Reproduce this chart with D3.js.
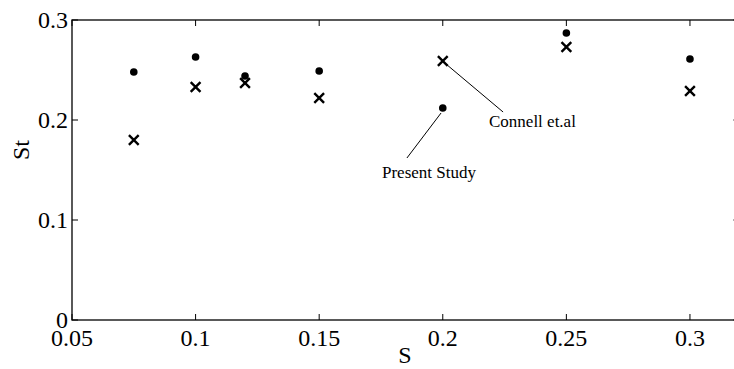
<!DOCTYPE html>
<html>
<head>
<meta charset="utf-8">
<script src="https://cdn.jsdelivr.net/npm/d3@7"></script>
<style>
  html, body { margin: 0; padding: 0; background: #fff; }
</style>
</head>
<body>
<div id="chart"></div>
<script>
// data
const sValues = [0.075, 0.1, 0.12, 0.15, 0.2, 0.25, 0.3];
const presentSt = [0.248, 0.263, 0.244, 0.249, 0.212, 0.287, 0.261];
const connellSt = [0.180, 0.233, 0.237, 0.222, 0.259, 0.273, 0.229];
const xTicks = [0.05, 0.1, 0.15, 0.2, 0.25, 0.3];
const yTicks = [0, 0.1, 0.2, 0.3];

const width = 734, height = 369;
const margin = { left: 72, top: 20 };
const plotW = 667.4, plotH = 300;
const serif = '"Liberation Serif", "Times New Roman", Times, serif';

const svg = d3.select('#chart').append('svg')
  .attr('width', width)
  .attr('height', height)
  .attr('font-family', serif);

svg.append('rect').attr('width', width).attr('height', height).attr('fill', '#fff');

const x = d3.scaleLinear().domain([0.05, 0.32]).range([margin.left, margin.left + plotW]);
const y = d3.scaleLinear().domain([0, 0.3]).range([margin.top + plotH, margin.top]);

const tickLen = 6;
const axisG = svg.append('g');

// box
axisG.append('rect')
  .attr('x', x(0.05)).attr('y', y(0.3))
  .attr('width', x(0.32) - x(0.05)).attr('height', y(0) - y(0.3))
  .attr('fill', 'none').attr('stroke', '#000').attr('stroke-width', 1.3);

// x ticks (bottom + top, pointing inward)
xTicks.forEach(t => {
  axisG.append('line').attr('x1', x(t)).attr('x2', x(t))
    .attr('y1', y(0)).attr('y2', y(0) - tickLen).attr('stroke', '#000');
  axisG.append('line').attr('x1', x(t)).attr('x2', x(t))
    .attr('y1', y(0.3)).attr('y2', y(0.3) + tickLen).attr('stroke', '#000');
  axisG.append('text')
    .attr('x', x(t)).attr('y', y(0) + 26)
    .attr('text-anchor', 'middle')
    .attr('font-family', serif)
    .style('font-size', '24px')
    .text(d3.format('')(t));
});

// y ticks (left + right)
yTicks.forEach(t => {
  axisG.append('line').attr('x1', x(0.05)).attr('x2', x(0.05) + tickLen)
    .attr('y1', y(t)).attr('y2', y(t)).attr('stroke', '#000');
  axisG.append('line').attr('x1', x(0.32)).attr('x2', x(0.32) - tickLen)
    .attr('y1', y(t)).attr('y2', y(t)).attr('stroke', '#000');
  axisG.append('text')
    .attr('x', x(0.05) - 4).attr('y', y(t) + 8)
    .attr('text-anchor', 'end')
    .attr('font-family', serif)
    .style('font-size', '24px')
    .text(d3.format('')(t));
});

// axis labels
svg.append('text')
  .attr('x', 405).attr('y', 363)
  .attr('text-anchor', 'middle')
  .attr('font-family', serif)
  .style('font-size', '24px')
  .text('S');

svg.append('text')
  .attr('transform', 'translate(29,' + 150 + ') rotate(-90)')
  .attr('text-anchor', 'middle')
  .attr('font-family', serif)
  .style('font-size', '24px')
  .text('St');

// present study: filled dots
svg.append('g').selectAll('circle')
  .data(sValues.map((s, i) => ({ s: s, v: presentSt[i] })))
  .enter()
  .append('circle')
  .attr('cx', d => x(d.s))
  .attr('cy', d => y(d.v))
  .attr('r', 3.8)
  .attr('fill', '#000');

// Connell et.al: crosses
const cross = d3.symbol().type(d3.symbolTimes).size(64);
svg.append('g').selectAll('path')
  .data(sValues.map((s, i) => ({ s: s, v: connellSt[i] })))
  .enter()
  .append('path')
  .attr('d', cross)
  .attr('transform', d => 'translate(' + x(d.s) + ',' + y(d.v) + ')')
  .attr('fill', 'none')
  .attr('stroke', '#000')
  .attr('stroke-width', 2.4);

// annotations (data coordinates)
const notes = [
  { text: 'Present Study', from: [0.1993, 0.207], to: [0.1855, 0.162], at: [0.1754, 0.142] },
  { text: 'Connell et.al', from: [0.2013, 0.256], to: [0.2244, 0.208], at: [0.2187, 0.193] }
];

notes.forEach(n => {
  svg.append('line')
    .attr('x1', x(n.from[0])).attr('y1', y(n.from[1]))
    .attr('x2', x(n.to[0])).attr('y2', y(n.to[1]))
    .attr('stroke', '#000').attr('stroke-width', 1);
  svg.append('text')
    .attr('x', x(n.at[0])).attr('y', y(n.at[1]))
    .attr('font-family', serif)
    .style('font-size', '17px')
    .text(n.text);
});
</script>
</body>
</html>
